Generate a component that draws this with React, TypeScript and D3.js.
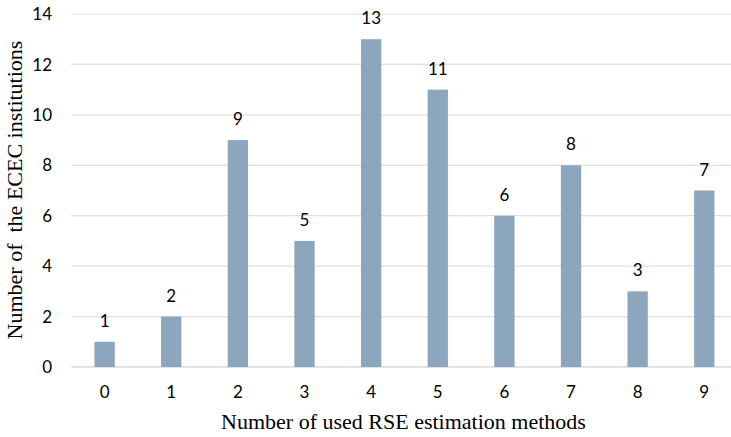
import React from "react";
import * as d3 from "d3";

const categories = ["0", "1", "2", "3", "4", "5", "6", "7", "8", "9"];
const counts = [1, 2, 9, 5, 13, 11, 6, 8, 3, 7];
const yTicks = [0, 2, 4, 6, 8, 10, 12, 14];

const W = 731;
const H = 437;
const plot = { left: 71.3, right: 737.6, top: 14, bottom: 367 };

const numFont = "Lato, 'Open Sans', sans-serif";
const titleFont = "'Liberation Serif', 'Times New Roman', serif";

export default function App() {
  const x = d3
    .scaleBand<string>()
    .domain(categories)
    .range([plot.left, plot.right])
    .paddingInner(0.695)
    .paddingOuter(0.3475);
  const y = d3.scaleLinear().domain([0, 14]).range([plot.bottom, plot.top]);

  return (
    <svg
      width={W}
      height={H}
      style={{ position: "absolute", left: 0, top: 0, background: "#fff" }}
    >
      {yTicks.map((t) => (
        <g key={t}>
          <line
            x1={plot.left}
            x2={W}
            y1={y(t)}
            y2={y(t)}
            stroke={t === 0 ? "#d9d9d9" : "#e0e0e0"}
            strokeWidth={t === 0 ? 1.5 : 1.2}
          />
          <text
            x={52}
            y={y(t)}
            dy="0.36em"
            textAnchor="end"
            fontFamily={numFont}
            fontSize={17}
            fill="#000"
          >
            {t}
          </text>
        </g>
      ))}
      {categories.map((c, i) => {
        const bx = x(c) as number;
        const cx = bx + x.bandwidth() / 2;
        return (
          <g key={c}>
            <rect
              x={bx}
              y={y(counts[i])}
              width={x.bandwidth()}
              height={y(0) - y(counts[i])}
              fill="#8BA6BD"
            />
            <text
              x={cx}
              y={y(counts[i]) - 15}
              textAnchor="middle"
              fontFamily={numFont}
              fontSize={17}
              fill="#000"
            >
              {counts[i]}
            </text>
            <text
              x={cx}
              y={398}
              textAnchor="middle"
              fontFamily={numFont}
              fontSize={17}
              fill="#000"
            >
              {c}
            </text>
          </g>
        );
      })}
      <text
        x={403.5}
        y={428.5}
        textAnchor="middle"
        fontFamily={titleFont}
        fontSize={22}
        fill="#000"
      >
        Number of used RSE estimation methods
      </text>
      <text
        transform={`translate(22, ${190}) rotate(-90)`}
        textAnchor="middle"
        fontFamily={titleFont}
        fontSize={22}
        fill="#000"
        style={{ whiteSpace: "pre" }}
      >
        {"Number of  the ECEC institutions"}
      </text>
    </svg>
  );
}
